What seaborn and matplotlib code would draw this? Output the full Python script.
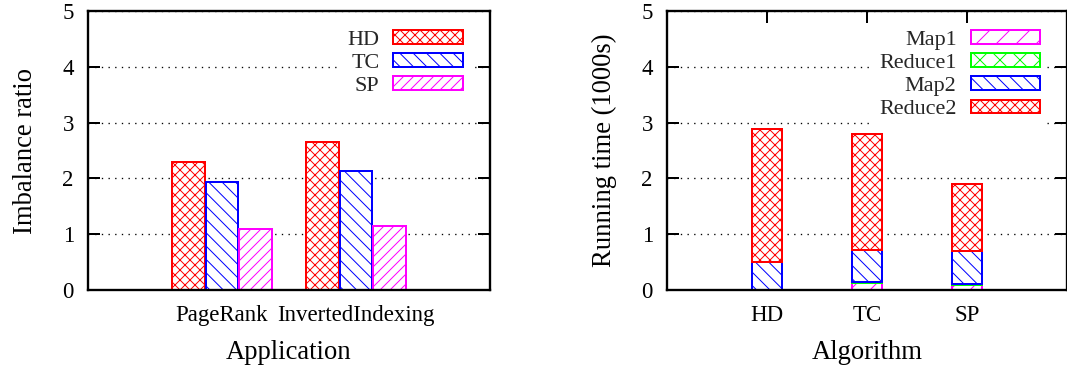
import numpy as np
import pandas as pd
import matplotlib
matplotlib.use("Agg")
import matplotlib.pyplot as plt
import matplotlib.patches as mpatches
import seaborn as sns

# ---------------- data ----------------
apps = ["PageRank", "InvertedIndexing"]
methods = ["HD", "TC", "SP"]
hd_ratio = [2.29, 2.65]
tc_ratio = [1.93, 2.14]
sp_ratio = [1.09, 1.15]

algs = ["HD", "TC", "SP"]
phases = ["Map1", "Reduce1", "Map2", "Reduce2"]
map1 = [0.0, 0.12, 0.09]
reduce1 = [0.0, 0.02, 0.02]
map2 = [0.51, 0.58, 0.59]
reduce2 = [2.38, 2.07, 1.20]

yticks = [0, 1, 2, 3, 4, 5]

# ---------------- style ----------------
sns.set_theme(style="white")
plt.rcParams["font.family"] = ["Liberation Serif", "DejaVu Serif"]
plt.rcParams["hatch.linewidth"] = 0.6
plt.rcParams["axes.axisbelow"] = True

RED, BLUE, MAG, GREEN = "#ff0000", "#0000ff", "#ff00ff", "#00ff00"
method_style = {"HD": (RED, "xxxx"), "TC": (BLUE, "\\\\\\"), "SP": (MAG, "////")}
phase_style = {"Map1": (MAG, "//"), "Reduce1": (GREEN, "xx"),
               "Map2": (BLUE, "\\\\\\"), "Reduce2": (RED, "xxxx")}

DPI = 120
W, H = 1067, 369
fig = plt.figure(figsize=(W / DPI, H / DPI), dpi=DPI)
ax1 = fig.add_axes([88 / W, 1 - 290 / H, 402 / W, 279 / H])
ax2 = fig.add_axes([667 / W, 1 - 290 / H, 400 / W, 279 / H])

TICK_FS = 13.7
LAB_FS = 16
LEG_FS = 13.3
EDGE_LW = 1.2


def style_axes(ax):
    ax.set_ylim(0, 5)
    ax.set_yticks(yticks)
    for s in ax.spines.values():
        s.set_linewidth(1.4)
        s.set_color("black")
        s.set_visible(True)
    ax.yaxis.grid(True, color="black", linestyle=(0, (1, 4)), linewidth=0.8)
    ax.xaxis.grid(False)
    ax.tick_params(axis="y", direction="in", length=7.2, width=1.2, left=True,
                   right=True, labelsize=TICK_FS, pad=8.5, colors="black")
    ax.set_facecolor("white")


# ---------------- left panel ----------------
df_left = pd.DataFrame({
    "Application": apps * 3,
    "ratio": hd_ratio + tc_ratio + sp_ratio,
    "method": [m for m in methods for _ in apps],
})
sns.barplot(data=df_left, x="Application", y="ratio", hue="method",
            hue_order=methods, order=apps, width=0.75, gap=0.03,
            errorbar=None, legend=False, ax=ax1)
for cont, m in zip(ax1.containers, methods):
    col, hatch = method_style[m]
    for p in cont.patches:
        p.set_facecolor("white")
        p.set_edgecolor(col)
        p.set_hatch(hatch)
        p.set_linewidth(EDGE_LW)
style_axes(ax1)
ax1.set_xlim(-1, 2)
ax1.tick_params(axis="x", length=0, labelsize=TICK_FS, pad=9, colors="black")
ax1.set_xlabel("Application", fontsize=LAB_FS, labelpad=8.5, color="black")
ax1.set_ylabel("Imbalance ratio", fontsize=LAB_FS, color="black")
ax1.yaxis.set_label_coords(-0.124, 0.5)

h1 = [mpatches.Patch(facecolor="white", edgecolor=method_style[m][0],
                     hatch=method_style[m][1], linewidth=EDGE_LW, label=m)
      for m in methods]
leg1 = ax1.legend(handles=h1, loc="upper right", bbox_to_anchor=(0.95, 0.955),
                  borderaxespad=0, borderpad=0.3, markerfirst=False,
                  handlelength=3.15, handleheight=0.59, handletextpad=0.63,
                  labelspacing=0.15, fontsize=LEG_FS, frameon=True,
                  fancybox=False, framealpha=1, facecolor="white",
                  edgecolor="none")
for t in leg1.get_texts():
    t.set_ha("right")

# ---------------- right panel ----------------
seg_values = {"Map1": map1, "Reduce1": reduce1, "Map2": map2, "Reduce2": reduce2}
bottom = np.zeros(len(algs))
for ph in phases:
    col, hatch = phase_style[ph]
    vals = seg_values[ph]
    sns.barplot(x=algs, y=vals, order=algs, width=0.3, errorbar=None,
                color=col, ax=ax2, bottom=bottom.copy())
    for p in ax2.containers[-1].patches:
        p.set_facecolor("white")
        p.set_edgecolor(col)
        p.set_hatch(hatch)
        p.set_linewidth(EDGE_LW)
    bottom = bottom + np.array(vals)
style_axes(ax2)
ax2.set_xlim(-1, 3)
ax2.tick_params(axis="x", direction="in", length=7.2, width=1.2, top=True,
                bottom=True, labelsize=TICK_FS, pad=9, colors="black")
ax2.set_xlabel("Algorithm", fontsize=LAB_FS, labelpad=8.5, color="black")
ax2.set_ylabel("Running time (1000s)", fontsize=LAB_FS, color="black")
ax2.yaxis.set_label_coords(-0.125, 0.5)

h2 = [mpatches.Patch(facecolor="white", edgecolor=phase_style[p][0],
                     hatch=phase_style[p][1], linewidth=EDGE_LW, label=p)
      for p in phases]
leg2 = ax2.legend(handles=h2, loc="upper right", bbox_to_anchor=(0.95, 0.955),
                  borderaxespad=0, borderpad=0.3, markerfirst=False,
                  handlelength=3.15, handleheight=0.59, handletextpad=0.63,
                  labelspacing=0.15, fontsize=LEG_FS, frameon=True,
                  fancybox=False, framealpha=1, facecolor="white",
                  edgecolor="none")
for t in leg2.get_texts():
    t.set_ha("right")

fig.savefig("out.png", dpi=DPI, facecolor="white")
